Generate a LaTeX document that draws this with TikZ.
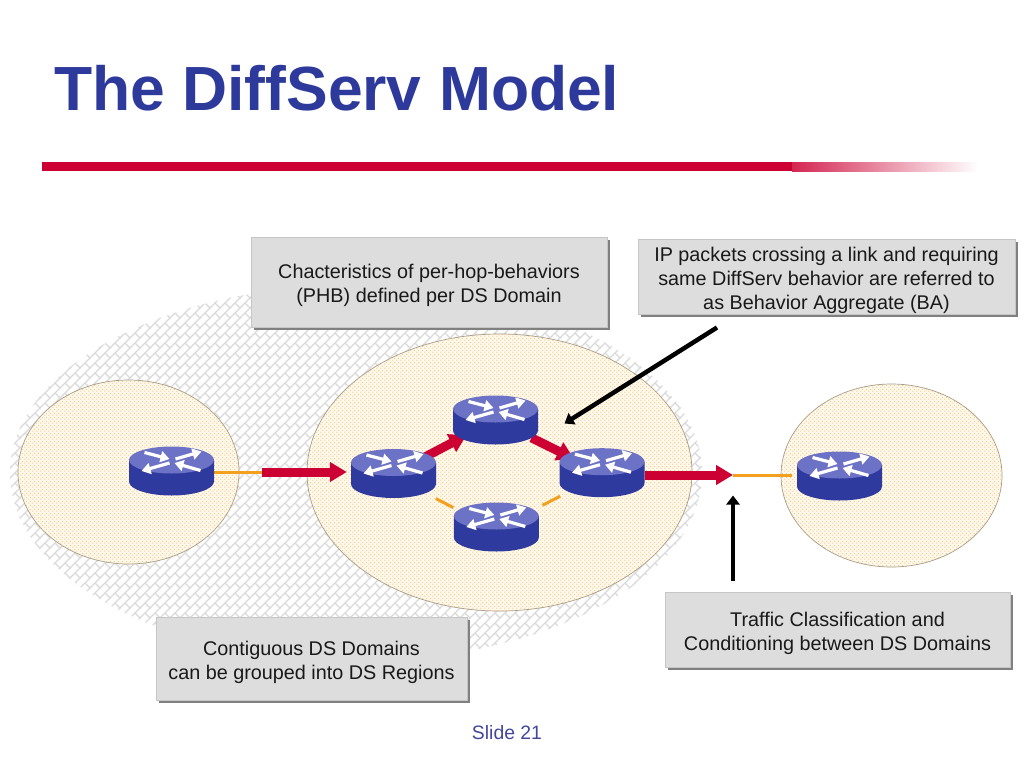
\documentclass[tikz,border=0pt]{standalone}
\usepackage{fontspec}
\setmainfont{Liberation Sans}
\usetikzlibrary{arrows.meta,patterns,shapes.geometric,shadows}
\definecolor{titleblue}{HTML}{2E3A9B}
\definecolor{slideblue}{HTML}{43489C}
\definecolor{rulered}{HTML}{CC0033}
\definecolor{linkorange}{HTML}{F2A01E}
\definecolor{dotorange}{HTML}{F7C078}
\definecolor{creamfill}{HTML}{FFF9EC}
\definecolor{edgegrey}{HTML}{A39B88}
\definecolor{hatchgrey}{HTML}{DADADA}
\definecolor{boxgrey}{HTML}{DDDDDD}
\definecolor{routertop}{HTML}{6C72C6}
\definecolor{routerside}{HTML}{2F3A9E}
\pgfdeclarepatternformonly{diagbricks}{\pgfqpoint{-1pt}{-1pt}}{\pgfqpoint{11pt}{11pt}}{\pgfqpoint{10pt}{10pt}}{
  \pgfsetlinewidth{1.1pt}
  \pgfpathmoveto{\pgfqpoint{-1pt}{-1pt}}\pgfpathlineto{\pgfqpoint{11pt}{11pt}}
  \pgfpathmoveto{\pgfqpoint{10pt}{0pt}}\pgfpathlineto{\pgfqpoint{5pt}{5pt}}
  \pgfusepath{stroke}}
\pgfdeclarepatternformonly{smalldots}{\pgfqpoint{0pt}{0pt}}{\pgfqpoint{4pt}{4pt}}{\pgfqpoint{4pt}{4pt}}{
  \pgfpathcircle{\pgfqpoint{1pt}{1pt}}{0.7pt}
  \pgfpathcircle{\pgfqpoint{3pt}{3pt}}{0.7pt}
  \pgfusepath{fill}}
\tikzset{
  x=1pt,y=-1pt,
  dsregion/.style={draw=edgegrey,line width=0.7pt,fill=creamfill,postaction={pattern=smalldots,pattern color=dotorange}},
  routerbody/.style={fill=routerside},
  routerface/.style={fill=routertop},
  routermark/.style={draw=white,line width=3.2pt,-{Triangle[length=9pt,width=11pt]}},
  routernode/.style={ellipse,minimum width=85pt,minimum height=49pt,inner sep=0pt},
  redlink/.style={draw=rulered,line width=9pt,-{Triangle[length=17pt,width=19pt]}},
  orangelink/.style={draw=linkorange,line width=3pt},
  blacklink/.style={draw=black,line width=4.5pt,-{Triangle[length=9pt,width=13pt]}},
  notebox/.style={rectangle,draw=gray!45,line width=0.6pt,fill=boxgrey,align=center,inner sep=0pt,font=\fontsize{19.8pt}{24pt}\selectfont,text=black!90,
    drop shadow={shadow xshift=2.5pt,shadow yshift=-2.5pt,opacity=1,fill=black!50}}
}
\newcommand{\notestrut}{\rule{0pt}{22pt}}
\newcommand{\routerbodyat}[1]{%
  \begin{scope}[shift={(#1)}]
    \fill[routerbody] (-42.5,-11) -- (-42.5,10.5) arc[start angle=180,end angle=360,x radius=42.5,y radius=-14] -- (42.5,-11) -- cycle;
    \fill[routerface] (0,-11) ellipse[x radius=42.5,y radius=13.5];
    \begin{scope}[shift={(0,-11)}]
      \draw[routermark] (-27,-7.5) -- (-2,-1);
      \draw[routermark] (4,-1) -- (30,-8.5);
      \draw[routermark] (-2,3) -- (-30,11);
      \draw[routermark] (29,10.5) -- (3,3);
    \end{scope}
  \end{scope}}
\begin{document}
\begin{tikzpicture}
\useasboundingbox (0,0) rectangle (1024,768);
\fill[white] (0,0) rectangle (1024,768);
% title and rule
\node[anchor=base west,inner sep=0pt,text=titleblue,font=\fontsize{62.4pt}{70pt}\selectfont\bfseries] (title) at (54,110) {The DiffServ Model};
\fill[rulered] (42,162) rectangle (792,171);
\shade[left color=rulered!85!white,right color=white,shading angle=90] (792,162) rectangle (978,171);
% regions
\path[pattern=diagbricks,pattern color=hatchgrey] (356,473) ellipse[x radius=346,y radius=188];
\path[dsregion] (128.5,472) ellipse[x radius=110.5,y radius=92];
\path[dsregion] (499.5,472.5) ellipse[x radius=192.5,y radius=138.5];
\path[dsregion] (891.5,475.5) ellipse[x radius=110.5,y radius=91.5];
% router nodes
\node[routernode] (r0) at (171.5,471) {};
\node[routernode] (r1) at (393.5,473.5) {};
\node[routernode] (r2) at (495.5,420) {};
\node[routernode] (r3) at (602,472.7) {};
\node[routernode] (r4) at (496.3,527) {};
\node[routernode] (r5) at (839.5,476) {};
% junctions
\coordinate (j1) at (262,472);
\coordinate (j2) at (733,475);
% links
\draw[orangelink] (r0.east |- j1) -- (j1);
\draw[redlink,shorten >=4pt] (j1) -- (r1.west |- j1);
\draw[redlink,shorten <=0pt,shorten >=-3pt] (r1) -- (r2);
\draw[redlink,shorten <=4pt,shorten >=-5pt] (r2) -- (r3);
\draw[orangelink] (j2) -- ([xshift=-5pt]r5.west |- j2);
\draw[redlink] (r3.east |- j2) -- (j2);
\draw[orangelink,shorten <=47.8pt,shorten >=48.4pt] ([shift={(0,3)}]r1.center) -- ([shift={(0,3)}]r4.center);
\draw[orangelink,shorten <=52pt,shorten >=47pt] ([shift={(0,2)}]r4.center) -- ([shift={(0,2)}]r3.center);
% router bodies
\routerbodyat{r0}
\routerbodyat{r1}
\routerbodyat{r2}
\routerbodyat{r3}
\routerbodyat{r4}
\routerbodyat{r5}
% notes
\node[notebox,minimum width=356pt,minimum height=90pt] (n1) at (429,282) {\notestrut Chacteristics of per-hop-behaviors\\(PHB) defined per DS Domain};
\node[notebox,minimum width=377pt,minimum height=75pt] (n2) at (826.5,276.5) {\notestrut IP packets crossing a link and requiring\\same DiffServ behavior are referred to\\as Behavior Aggregate (BA)};
\node[notebox,minimum width=345pt,minimum height=75pt] (n3) at (837.5,629.5) {\notestrut Traffic Classification and\\Conditioning between DS Domains};
\node[notebox,minimum width=311pt,minimum height=83pt] (n4) at (311.5,658.5) {\notestrut Contiguous DS Domains\\can be grouped into DS Regions};
% pointers
\coordinate (p1s) at (717,327.5);
\coordinate (p1e) at (564.5,423.5);
\coordinate (p2s) at (733,581);
\coordinate (p2e) at (733,495.5);
\draw[blacklink] (p1s) -- (p1e);
\draw[blacklink] (p2s) -- (p2e);
% footer
\node[anchor=base,inner sep=0pt,text=slideblue,font=\fontsize{19.4pt}{20pt}\selectfont] (slide) at (507,739.5) {Slide 21};
\end{tikzpicture}
\end{document}
